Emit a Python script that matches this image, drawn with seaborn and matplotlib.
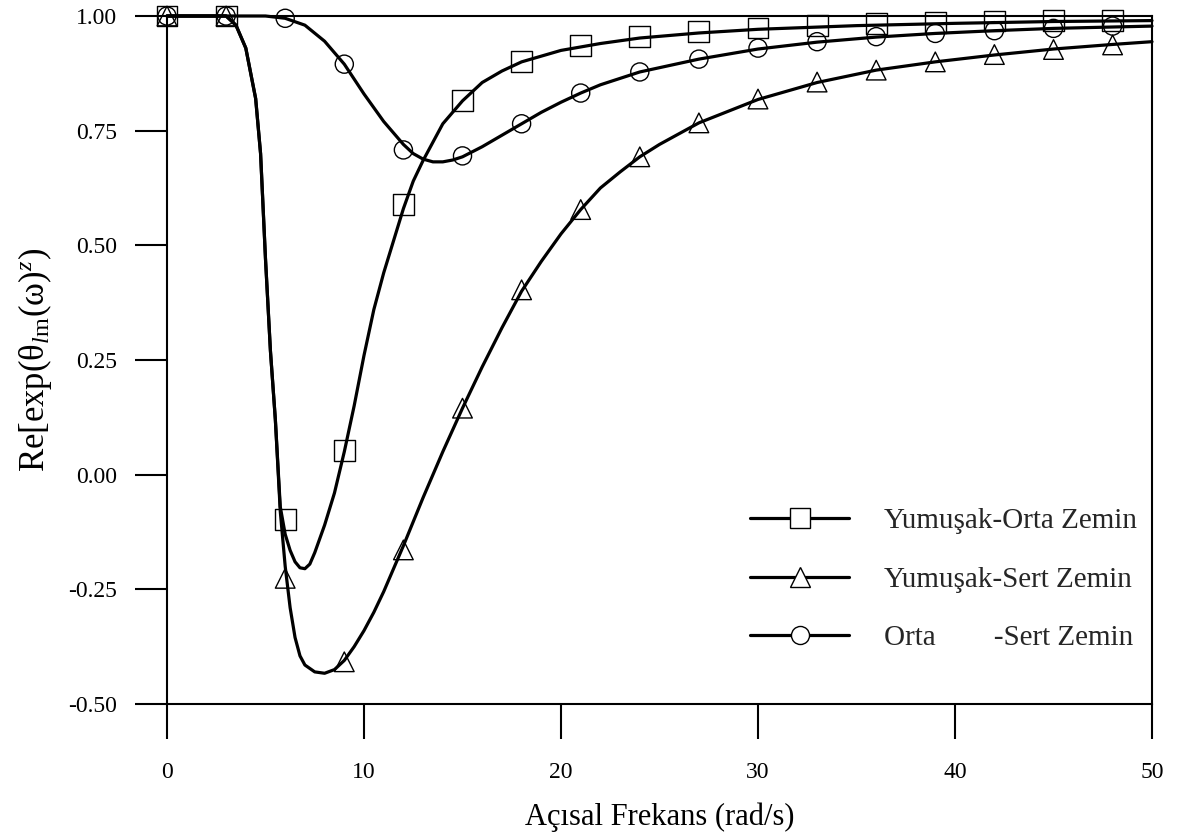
import numpy as np
import pandas as pd
import seaborn as sns
import matplotlib
matplotlib.use("Agg")
import matplotlib.pyplot as plt
from matplotlib.lines import Line2D

# ---------------- data ----------------
marker_x = [0, 3, 6, 9, 12, 15, 18, 21, 24, 27, 30, 33, 36, 39, 42, 45, 48]
yo_marker_y = [1.0, 1.0, -0.097, 0.052, 0.589, 0.815, 0.900, 0.935, 0.955, 0.967,
               0.974, 0.980, 0.984, 0.986, 0.989, 0.990, 0.991]
ys_marker_y = [1.0, 1.0, -0.226, -0.408, -0.164, 0.145, 0.403, 0.578, 0.693, 0.767,
               0.819, 0.856, 0.882, 0.900, 0.916, 0.927, 0.937]
os_marker_y = [1.0, 1.0, 0.995, 0.895, 0.708, 0.695, 0.765, 0.832, 0.878, 0.906,
               0.930, 0.944, 0.955, 0.962, 0.968, 0.973, 0.978]

yo_line_x = [0, 3, 3.5, 4, 4.5, 4.75, 5.0, 5.25, 5.5, 5.75, 6.0, 6.25, 6.5, 6.75, 7.0,
             7.25, 7.5, 8.0, 8.5, 9.0, 9.5, 10, 10.5, 11, 11.5, 12, 12.5, 13, 14, 15,
             16, 17, 18, 20, 22, 24, 27, 30, 35, 40, 45, 50]
yo_line_y = [1.0, 1.0, 0.98, 0.93, 0.82, 0.70, 0.47, 0.27, 0.12, -0.07, -0.13, -0.165,
             -0.19, -0.203, -0.205, -0.195, -0.17, -0.11, -0.04, 0.05, 0.15, 0.26, 0.36,
             0.44, 0.51, 0.58, 0.64, 0.685, 0.765, 0.815, 0.855, 0.88, 0.90, 0.925,
             0.94, 0.952, 0.963, 0.971, 0.979, 0.984, 0.988, 0.99]

ys_line_x = [0, 3, 3.5, 4, 4.5, 4.75, 5.0, 5.25, 5.5, 5.75, 6.0, 6.25, 6.5, 6.75, 7.0,
             7.5, 8.0, 8.5, 9.0, 9.5, 10, 10.5, 11, 11.5, 12, 13, 14, 15, 16, 17, 18,
             19, 20, 21, 22, 23, 24, 25, 27, 30, 33, 36, 39, 42, 45, 48, 50]
ys_line_y = [1.0, 1.0, 0.98, 0.93, 0.82, 0.70, 0.47, 0.27, 0.12, -0.08, -0.20, -0.29,
             -0.355, -0.395, -0.415, -0.43, -0.433, -0.425, -0.405, -0.375, -0.34,
             -0.30, -0.255, -0.205, -0.155, -0.05, 0.05, 0.145, 0.235, 0.32, 0.40,
             0.465, 0.525, 0.578, 0.625, 0.66, 0.693, 0.72, 0.767, 0.818, 0.855,
             0.882, 0.90, 0.915, 0.928, 0.938, 0.944]

os_line_x = [0, 3, 5, 6, 7, 8, 9, 10, 11, 12, 12.5, 13, 13.5, 14, 14.5, 15, 16, 17,
             18, 19, 20, 21, 22, 24, 27, 30, 33, 36, 39, 42, 45, 50]
os_line_y = [1.0, 1.0, 1.0, 0.995, 0.98, 0.945, 0.895, 0.83, 0.77, 0.72, 0.70, 0.688,
             0.682, 0.682, 0.686, 0.693, 0.715, 0.74, 0.765, 0.79, 0.812, 0.832, 0.85,
             0.878, 0.906, 0.928, 0.943, 0.954, 0.962, 0.968, 0.973, 0.978]

labels = ["Yumuşak-Orta Zemin", "Yumuşak-Sert Zemin", "Orta        -Sert Zemin"]
x_ticks = [0, 10, 20, 30, 40, 50]
y_ticks = [-0.50, -0.25, 0.00, 0.25, 0.50, 0.75, 1.00]

# ---------------- style ----------------
sns.set_theme(style="ticks")
plt.rcParams["font.family"] = ["Liberation Serif", "DejaVu Serif"]
plt.rcParams["mathtext.fontset"] = "custom"
plt.rcParams["mathtext.rm"] = "Liberation Serif"
plt.rcParams["mathtext.it"] = "Liberation Serif:italic"

fig = plt.figure(figsize=(11.79, 8.33), dpi=100)
ax = fig.add_axes([167 / 1179, 1 - 704 / 833, (1152 - 167) / 1179, (704 - 16) / 833])

series = [
    (yo_line_x, yo_line_y, yo_marker_y, "s", 225),
    (ys_line_x, ys_line_y, ys_marker_y, "^", 200),
    (os_line_x, os_line_y, os_marker_y, "o", 170),
]

for lx, ly, my, mk, size in series:
    sns.lineplot(x=lx, y=ly, color="black", linewidth=2.3, estimator=None,
                 ax=ax, legend=False, clip_on=False)
    sns.scatterplot(x=marker_x, y=my, marker=mk, s=size, ax=ax, legend=False)
    coll = ax.collections[-1]
    coll.set_facecolor("none")
    coll.set_edgecolor("black")
    coll.set_linewidth(1.0)
    coll.set_clip_on(False)
    coll.set_zorder(3)

ax.set_xlim(0, 50)
ax.set_ylim(-0.5, 1.0)
ax.set_xticks(x_ticks)
ax.set_xticklabels([str(t) for t in x_ticks])
ax.set_yticks(y_ticks)
ax.set_yticklabels([f"{t:.2f}" for t in y_ticks])

for sp in ax.spines.values():
    sp.set_visible(True)
    sp.set_linewidth(1.5)
    sp.set_color("black")

ax.tick_params(axis="y", direction="out", length=23, width=1.5, labelsize=17,
               pad=13, colors="black", left=True, right=False)
ax.tick_params(axis="x", direction="out", length=25, width=1.5, labelsize=17,
               pad=17, colors="black", bottom=True, top=False)

ax.set_xlabel("Açısal Frekans (rad/s)", fontsize=22, labelpad=14, color="black")
ax.set_ylabel(r"Re[exp($\mathrm{θ}_{\mathit{l}\mathrm{m}}(\mathrm{ω})^{z}$)",
              fontsize=25, labelpad=10, color="black")

handles = [
    Line2D([0], [0], color="black", lw=2.3, marker="s", markersize=15,
           markerfacecolor="white", markeredgecolor="black", markeredgewidth=1.0),
    Line2D([0], [0], color="black", lw=2.3, marker="^", markersize=14,
           markerfacecolor="white", markeredgecolor="black", markeredgewidth=1.0),
    Line2D([0], [0], color="black", lw=2.3, marker="o", markersize=13,
           markerfacecolor="white", markeredgecolor="black", markeredgewidth=1.0),
]
fig.legend(handles, labels, loc="upper left",
           bbox_to_anchor=(750 / 1179, 1 - 508 / 833),
           frameon=False, fontsize=21, handlelength=3.4, handletextpad=1.2,
           labelspacing=1.1, borderpad=0, borderaxespad=0, numpoints=1)

fig.savefig("out.png", dpi=100, facecolor="white")
